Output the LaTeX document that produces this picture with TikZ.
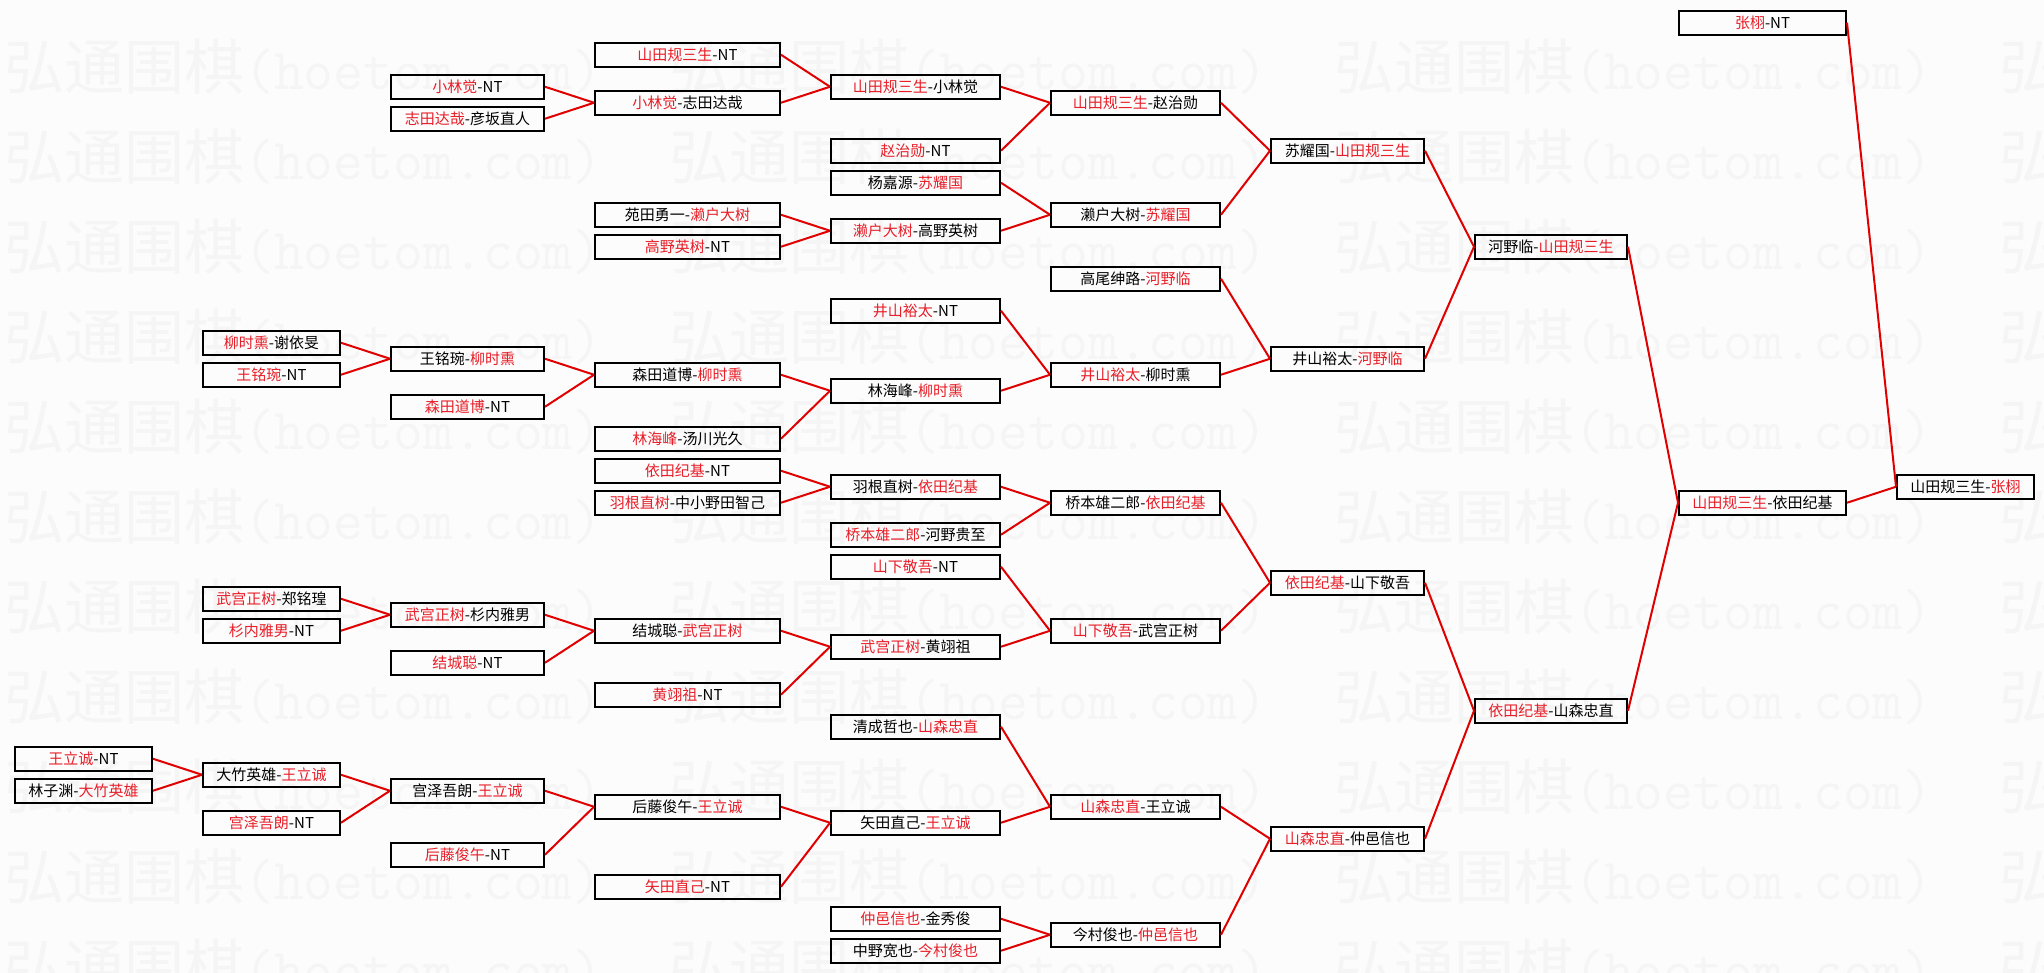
\documentclass[tikz,border=0pt]{standalone}
\usepackage{fontspec}
\newfontfamily\cjk{Noto Sans CJK SC}
\newfontfamily\wmmono{Latin Modern Mono}
\definecolor{winred}{RGB}{232,30,40}
\definecolor{linered}{RGB}{225,0,0}
\definecolor{wmgray}{RGB}{245,245,245}
\definecolor{bggray}{RGB}{252,252,252}
\newcommand\R[1]{\textcolor{winred}{#1}}
\tikzset{
  box/.style={draw=black, line width=2pt, minimum height=24pt, inner sep=0pt,
    font=\cjk\fontsize{15pt}{15pt}\selectfont, text=black},
  colA/.style={box, minimum width=137pt},
  colB/.style={box, minimum width=137pt},
  colC/.style={box, minimum width=153pt},
  colD/.style={box, minimum width=185pt},
  colE/.style={box, minimum width=169pt},
  colF/.style={box, minimum width=169pt},
  colG/.style={box, minimum width=153pt},
  colH/.style={box, minimum width=152pt},
  colI/.style={box, minimum width=167pt},
  colJ/.style={box, minimum width=137pt},
  link/.style={draw=linered, line width=2pt},
  wm/.style={anchor=west, inner sep=0pt, text=wmgray,
    font=\cjk\fontsize{60pt}{60pt}\selectfont}
}
\begin{document}
\begin{tikzpicture}[x=1pt,y=-1pt]
\useasboundingbox (0,0) rectangle (2044,973);
\fill[bggray] (0,0) rectangle (2044,973);
% watermark
\begin{scope}
\clip (0,0) rectangle (2044,973);
\foreach \r in {0,...,10}{
  \foreach \c in {0,...,3}{
    \node[wm] (wm-\r-\c) at ({4+665*\c},{67+90*\r}) {弘通围棋{\wmmono\fontsize{58pt}{58pt}\selectfont (hoetom.com)}};
  }
}
\end{scope}

% column J
\node[colJ] (j27) at (1965.5,486.75) {山田规三生-\R{张栩}};
% column I
\node[colI] (im2) at (1762.5,22.75) {\R{张栩}-NT};
\node[colI] (i28) at (1762.5,502.75) {\R{山田规三生}-依田纪基};
% column H
\node[colH] (h12) at (1551,246.75) {河野临-\R{山田规三生}};
\node[colH] (h41) at (1551,710.75) {\R{依田纪基}-山森忠直};
% column G
\node[colG] (g6) at (1347.5,150.75) {苏耀国-\R{山田规三生}};
\node[colG] (g19) at (1347.5,358.75) {井山裕太-\R{河野临}};
\node[colG] (g33) at (1347.5,582.75) {\R{依田纪基}-山下敬吾};
\node[colG] (g49) at (1347.5,838.75) {\R{山森忠直}-仲邑信也};
% column F
\node[colF] (f3) at (1135.5,102.75) {\R{山田规三生}-赵治勋};
\node[colF] (f10) at (1135.5,214.75) {濑户大树-\R{苏耀国}};
\node[colF] (f14) at (1135.5,278.75) {高尾绅路-\R{河野临}};
\node[colF] (f20) at (1135.5,374.75) {\R{井山裕太}-柳时熏};
\node[colF] (f28) at (1135.5,502.75) {桥本雄二郎-\R{依田纪基}};
\node[colF] (f36) at (1135.5,630.75) {\R{山下敬吾}-武宫正树};
\node[colF] (f47) at (1135.5,806.75) {\R{山森忠直}-王立诚};
\node[colF] (f55) at (1135.5,934.75) {今村俊也-\R{仲邑信也}};
% column E
\node[colE] (e2) at (915.5,86.75) {\R{山田规三生}-小林觉};
\node[colE] (e6) at (915.5,150.75) {\R{赵治勋}-NT};
\node[colE] (e8) at (915.5,182.75) {杨嘉源-\R{苏耀国}};
\node[colE] (e11) at (915.5,230.75) {\R{濑户大树}-高野英树};
\node[colE] (e16) at (915.5,310.75) {\R{井山裕太}-NT};
\node[colE] (e21) at (915.5,390.75) {林海峰-\R{柳时熏}};
\node[colE] (e27) at (915.5,486.75) {羽根直树-\R{依田纪基}};
\node[colE] (e30) at (915.5,534.75) {\R{桥本雄二郎}-河野贵至};
\node[colE] (e32) at (915.5,566.75) {\R{山下敬吾}-NT};
\node[colE] (e37) at (915.5,646.75) {\R{武宫正树}-黄翊祖};
\node[colE] (e42) at (915.5,726.75) {清成哲也-\R{山森忠直}};
\node[colE] (e48) at (915.5,822.75) {矢田直己-\R{王立诚}};
\node[colE] (e54) at (915.5,918.75) {\R{仲邑信也}-金秀俊};
\node[colE] (e56) at (915.5,950.75) {中野宽也-\R{今村俊也}};
% column D
\node[colD] (d0) at (687.5,54.75) {\R{山田规三生}-NT};
\node[colD] (d3) at (687.5,102.75) {\R{小林觉}-志田达哉};
\node[colD] (d10) at (687.5,214.75) {苑田勇一-\R{濑户大树}};
\node[colD] (d12) at (687.5,246.75) {\R{高野英树}-NT};
\node[colD] (d20) at (687.5,374.75) {森田道博-\R{柳时熏}};
\node[colD] (d24) at (687.5,438.75) {\R{林海峰}-汤川光久};
\node[colD] (d26) at (687.5,470.75) {\R{依田纪基}-NT};
\node[colD] (d28) at (687.5,502.75) {\R{羽根直树}-中小野田智己};
\node[colD] (d36) at (687.5,630.75) {结城聪-\R{武宫正树}};
\node[colD] (d40) at (687.5,694.75) {\R{黄翊祖}-NT};
\node[colD] (d47) at (687.5,806.75) {后藤俊午-\R{王立诚}};
\node[colD] (d52) at (687.5,886.75) {\R{矢田直己}-NT};
% column C
\node[colC] (c2) at (467.5,86.75) {\R{小林觉}-NT};
\node[colC] (c4) at (467.5,118.75) {\R{志田达哉}-彦坂直人};
\node[colC] (c19) at (467.5,358.75) {王铭琬-\R{柳时熏}};
\node[colC] (c22) at (467.5,406.75) {\R{森田道博}-NT};
\node[colC] (c35) at (467.5,614.75) {\R{武宫正树}-杉内雅男};
\node[colC] (c38) at (467.5,662.75) {\R{结城聪}-NT};
\node[colC] (c46) at (467.5,790.75) {宫泽吾朗-\R{王立诚}};
\node[colC] (c50) at (467.5,854.75) {\R{后藤俊午}-NT};
% column B
\node[colB] (b18) at (271.5,342.75) {\R{柳时熏}-谢依旻};
\node[colB] (b20) at (271.5,374.75) {\R{王铭琬}-NT};
\node[colB] (b34) at (271.5,598.75) {\R{武宫正树}-郑铭瑝};
\node[colB] (b36) at (271.5,630.75) {\R{杉内雅男}-NT};
\node[colB] (b45) at (271.5,774.75) {大竹英雄-\R{王立诚}};
\node[colB] (b48) at (271.5,822.75) {\R{宫泽吾朗}-NT};
% column A
\node[colA] (a44) at (83.5,758.75) {\R{王立诚}-NT};
\node[colA] (a46) at (83.5,790.75) {林子渊-\R{大竹英雄}};

% connectors
\foreach \p/\a/\b in {j27/im2/i28, i28/h12/h41, h12/g6/g19, h41/g33/g49,
  g6/f3/f10, g19/f14/f20, g33/f28/f36, g49/f47/f55,
  f3/e2/e6, f10/e8/e11, f20/e16/e21, f28/e27/e30, f36/e32/e37, f47/e42/e48, f55/e54/e56,
  e2/d0/d3, e11/d10/d12, e21/d20/d24, e27/d26/d28, e37/d36/d40, e48/d47/d52,
  d3/c2/c4, d20/c19/c22, d36/c35/c38, d47/c46/c50,
  c19/b18/b20, c35/b34/b36, c46/b45/b48,
  b45/a44/a46}{
  \draw[link] (\a.east) -- (\p.west);
  \draw[link] (\b.east) -- (\p.west);
}
\end{tikzpicture}
\end{document}
